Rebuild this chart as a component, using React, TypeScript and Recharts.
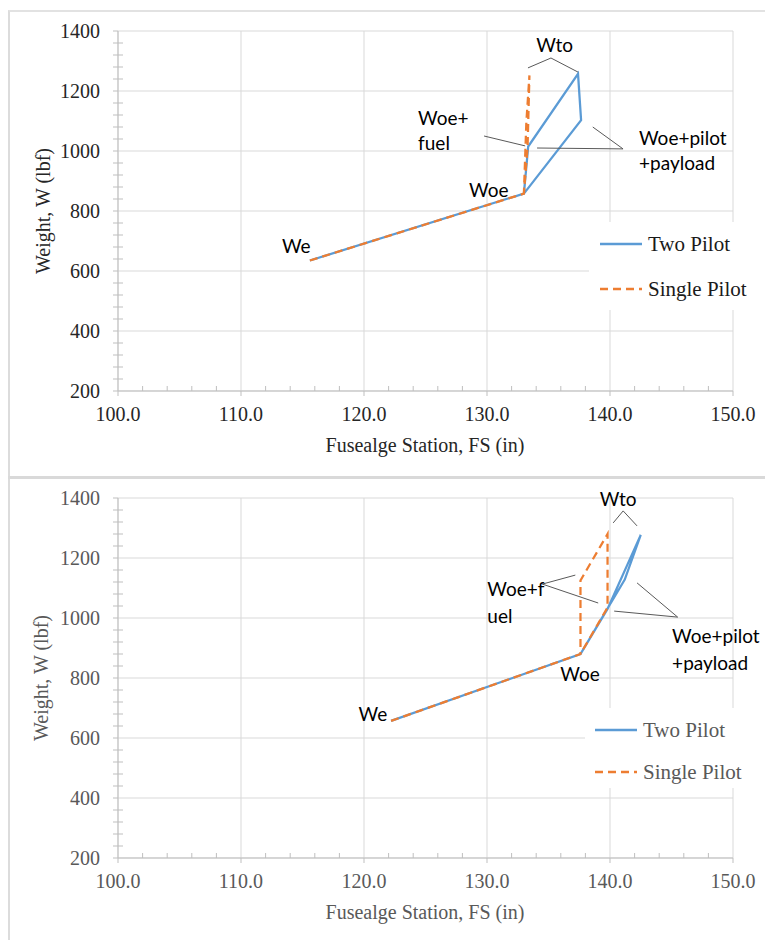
import React from "react";
import { LineChart, Line, XAxis, YAxis, CartesianGrid, Legend, ReferenceDot, ReferenceLine } from "recharts";

// axes
const fsTicks = [100, 102, 104, 106, 108, 110, 112, 114, 116, 118, 120, 122, 124, 126, 128, 130, 132, 134, 136, 138, 140, 142, 144, 146, 148, 150];
const fsMajor = [100, 110, 120, 130, 140, 150];
const wTicks = [200, 240, 280, 320, 360, 400, 440, 480, 520, 560, 600, 640, 680, 720, 760, 800, 840, 880, 920, 960, 1000, 1040, 1080, 1120, 1160, 1200, 1240, 1280, 1320, 1360, 1400];
const wMajor = [200, 400, 600, 800, 1000, 1200, 1400];

// top case: We, Woe, ..., back to Woe
const topTwoFs = [115.6, 133.0, 133.35, 137.4, 137.65, 133.0];
const topTwoW = [635, 858, 1015, 1257, 1103, 858];
const topSingleFs = [115.6, 133.0, 133.3, 133.45, 133.2, 133.0];
const topSingleW = [635, 858, 1015, 1252, 1097, 858];

// bottom case
const botTwoFs = [122.2, 137.6, 139.8, 142.5, 141.2, 137.6];
const botTwoW = [657, 880, 1030, 1277, 1128, 880];
const botSingleFs = [122.2, 137.6, 137.6, 139.8, 139.8, 137.6];
const botSingleW = [657, 880, 1125, 1280, 1035, 880];

// annotation text anchors (data coords)
const topNoteFs = [135.5, 124.4, 142.36, 128.54, 113.33];
const topNoteW = [1357, 1113, 1047, 873, 687];
const topNoteText = [["Wto"], ["Woe+", "fuel"], ["Woe+pilot", "+payload"], ["Woe"], ["We"]];
const botNoteFs = [140.67, 130.03, 145.05, 135.96, 119.56];
const botNoteW = [1400, 1100, 943, 817, 683];
const botNoteText = [["Wto"], ["Woe+f", "uel"], ["Woe+pilot", "+payload"], ["Woe"], ["We"]];

// leader lines [fs1, w1, fs2, w2]
const topLeaders = [
  [133.33, 1277, 135.2, 1310],
  [135.2, 1310, 137.4, 1263],
  [129.76, 1050, 133.1, 1017],
  [134.07, 1010, 141.06, 1007],
  [138.6, 1080, 141.06, 1007],
];
const botLeaders = [
  [140.26, 1317, 141.07, 1357],
  [141.07, 1357, 142.2, 1307],
  [134.5, 1113, 137.18, 1143],
  [134.5, 1113, 139.04, 1050],
  [142.2, 1117, 145.5, 1003],
  [140.34, 1023, 145.5, 1003],
];

const seriesOrder = ["Two Pilot", "Single Pilot"];

const BLUE = "#5b9bd5";
const ORANGE = "#ed7d31";
const GRID = "#d9d9d9";
const AXIS = "#bfbfbf";
const SERIF = '"Liberation Serif", serif';
const SANS = "Lato, sans-serif";

const rows = (fs: number[], w: number[]) => fs.map((x, i) => ({ fs: x, w: w[i] }));

function XTick(props: any) {
  const { x, y, payload, color } = props;
  const v = payload.value as number;
  const major = v % 10 === 0;
  return (
    <g>
      <line x1={x} x2={x} y1={y} y2={major ? y + 5 : y - 5} stroke={AXIS} />
      {major && (
        <text x={x} y={y + 30} textAnchor="middle" fill={color} style={{ fontFamily: SERIF, fontSize: 20 }}>
          {v.toFixed(1)}
        </text>
      )}
    </g>
  );
}

function YTick(props: any) {
  const { x, y, payload, color } = props;
  const v = payload.value as number;
  const major = v % 200 === 0;
  return (
    <g>
      <line x1={x - 5} x2={major ? x : x + 5} y1={y} y2={y} stroke={AXIS} />
      {major && (
        <text x={x - 18} y={y + 7} textAnchor="end" fill={color} style={{ fontFamily: SERIF, fontSize: 20 }}>
          {v}
        </text>
      )}
    </g>
  );
}

function LegendBox({ payload, textColor, rowGap, lineX }: any) {
  const items = [...(payload || [])].sort((a: any, b: any) => seriesOrder.indexOf(a.value) - seriesOrder.indexOf(b.value));
  return (
    <div style={{ position: "relative", width: "100%", height: "100%" }}>
      {items.map((e: any, i: number) => (
        <div key={i} style={{ position: "absolute", left: lineX, top: 8 + i * rowGap, height: 28, display: "flex", alignItems: "center" }}>
          <svg width={44} height={6} style={{ display: "block" }}>
            <line x1={1} x2={43} y1={3} y2={3} stroke={e.color} strokeWidth={2.5} strokeDasharray={e.payload?.strokeDasharray} />
          </svg>
          <span style={{ marginLeft: 5, fontFamily: SERIF, fontSize: 21, color: textColor, whiteSpace: "nowrap" }}>{e.value}</span>
        </div>
      ))}
    </div>
  );
}

function WBChart(p: any) {
  const two = rows(p.twoFs, p.twoW);
  const single = rows(p.singleFs, p.singleW);
  return (
    <LineChart width={755} height={p.height} margin={{ top: p.top, right: 32, bottom: p.bottom - 50, left: 48 }}>
      <CartesianGrid stroke={GRID} verticalValues={fsMajor} horizontalValues={wMajor} />
      <XAxis
        dataKey="fs"
        type="number"
        domain={[100, 150]}
        ticks={fsTicks}
        interval={0}
        height={50}
        tickSize={0}
        tickMargin={0}
        tickLine={false}
        axisLine={{ stroke: AXIS }}
        tick={(t: any) => <XTick {...t} color={p.tickColor} />}
        allowDataOverflow
      />
      <YAxis
        dataKey="w"
        type="number"
        domain={[200, 1400]}
        ticks={wTicks}
        interval={0}
        width={60}
        tickSize={0}
        tickMargin={0}
        tickLine={false}
        axisLine={{ stroke: AXIS }}
        tick={(t: any) => <YTick {...t} color={p.tickColor} />}
        allowDataOverflow
      />
      <Line data={two} dataKey="w" name="Two Pilot" stroke={BLUE} strokeWidth={2.25} dot={false} activeDot={false} isAnimationActive={false} />
      <Line data={single} dataKey="w" name="Single Pilot" stroke={ORANGE} strokeWidth={2.25} strokeDasharray="8 5" dot={false} activeDot={false} isAnimationActive={false} />
      {p.leaders.map((s: number[], i: number) => (
        <ReferenceLine key={"l" + i} segment={[{ x: s[0], y: s[1] }, { x: s[2], y: s[3] }]} stroke="#595959" strokeWidth={1} ifOverflow="visible" />
      ))}
      {p.noteFs.map((fs: number, i: number) => (
        <ReferenceDot
          key={"n" + i}
          x={fs}
          y={p.noteW[i]}
          r={0}
          ifOverflow="visible"
          shape={(s: any) => (
            <text x={s.cx} y={s.cy} fill="#000" textAnchor={i === 0 ? "middle" : "start"} dominantBaseline="central" style={{ fontFamily: SANS, fontSize: 19 }}>
              {p.noteText[i].map((ln: string, j: number) => (
                <tspan key={j} x={s.cx} dy={j === 0 ? 0 : p.lineGap}>
                  {ln}
                </tspan>
              ))}
            </text>
          )}
        />
      ))}
      <Legend
        layout="horizontal"
        verticalAlign="middle"
        align="center"
        wrapperStyle={{ left: p.legend.left, top: p.legend.top, width: 178, height: p.legend.height, background: "#fff" }}
        content={(lp: any) => <LegendBox payload={lp.payload} textColor={p.legendColor} rowGap={p.legend.gap} lineX={p.legend.lineX} />}
      />
      <text x={415} y={p.xTitleY} textAnchor="middle" fill={p.titleColor} style={{ fontFamily: SERIF, fontSize: 20 }}>
        Fusealge Station, FS (in)
      </text>
      <text
        x={p.yTitleX}
        y={p.yTitleY}
        textAnchor="middle"
        dominantBaseline="central"
        transform={`rotate(-90 ${p.yTitleX} ${p.yTitleY})`}
        fill={p.titleColor}
        style={{ fontFamily: SERIF, fontSize: 20 }}
      >
        Weight, W (lbf)
      </text>
    </LineChart>
  );
}

export default function App() {
  return (
    <div style={{ position: "absolute", left: 0, top: 0, width: 765, height: 940, background: "#fff", overflow: "hidden" }}>
      <div style={{ position: "absolute", left: 8, top: 10, width: 757, height: 930, borderLeft: "2px solid #dcdcdc", borderTop: "2px solid #e2e2e2" }} />
      <div style={{ position: "absolute", left: 8, top: 476, width: 757, height: 3, background: "#d9d9d9" }} />
      <div style={{ position: "absolute", left: 10, top: 12 }}>
        <WBChart
          height={463}
          top={19}
          bottom={84}
          twoFs={topTwoFs}
          twoW={topTwoW}
          singleFs={topSingleFs}
          singleW={topSingleW}
          noteFs={topNoteFs}
          noteW={topNoteW}
          noteText={topNoteText}
          leaders={topLeaders}
          lineGap={25}
          tickColor="#262626"
          titleColor="#262626"
          legendColor="#1a1a1a"
          legend={{ left: 579, top: 210, height: 88, gap: 45, lineX: 10 }}
          xTitleY={440}
          yTitleX={33}
          yTitleY={199}
        />
      </div>
      <div style={{ position: "absolute", left: 10, top: 480 }}>
        <WBChart
          height={460}
          top={18}
          bottom={82}
          twoFs={botTwoFs}
          twoW={botTwoW}
          singleFs={botSingleFs}
          singleW={botSingleW}
          noteFs={botNoteFs}
          noteW={botNoteW}
          noteText={botNoteText}
          leaders={botLeaders}
          lineGap={27}
          tickColor="#595959"
          titleColor="#595959"
          legendColor="#595959"
          legend={{ left: 575, top: 228, height: 80, gap: 42, lineX: 9 }}
          xTitleY={439}
          yTitleX={31}
          yTitleY={198}
        />
      </div>
    </div>
  );
}
